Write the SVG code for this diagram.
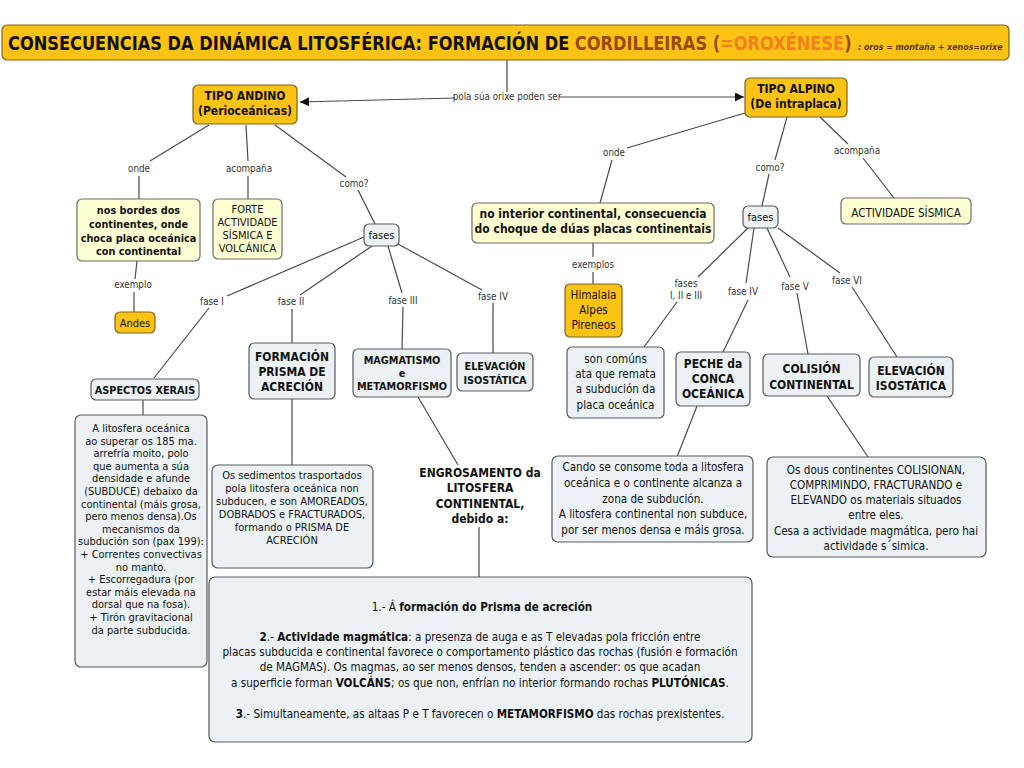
<svg xmlns="http://www.w3.org/2000/svg" width="1024" height="768" viewBox="0 0 1024 768">
<defs>
<style>
text{font-family:"DejaVu Sans Condensed","DejaVu Sans",sans-serif;font-stretch:condensed;fill:#111;text-anchor:middle}
.b{font-weight:bold}
.org{fill:#FDC314;stroke:#7d6320;stroke-width:1.2}
.yel{fill:#FFFFD2;stroke:#6b6b6b;stroke-width:1.2}
.blu{fill:#EBF1F4;stroke:#5a5a5a;stroke-width:1.2}
.ln{stroke:#4a4a4a;stroke-width:1.2;fill:none}
.lbl{font-size:9.8px;fill:#333}
.r12{font-size:11.6px}
.r11{font-size:11px}
.b12{font-size:12px;font-weight:bold}
.b11{font-size:10.8px;font-weight:bold}
</style>
<marker id="ah" viewBox="0 0 10 10" refX="10" refY="5" markerWidth="9" markerHeight="9" markerUnits="userSpaceOnUse" orient="auto"><path d="M0,0 L10,5 L0,10 z" fill="#111"/></marker>
</defs>
<rect width="1024" height="768" fill="#fff"/>

<g id="connectors">
<line class="ln" x1="507" y1="60" x2="507" y2="92"/>
<polyline class="ln" points="455,98 300,102" marker-end="url(#ah)"/>
<polyline class="ln" points="559,97 744,97" marker-end="url(#ah)"/>
<text class="lbl" x="507" y="100">pola súa orixe poden ser</text>

<line class="ln" x1="209" y1="125" x2="150" y2="161"/>
<text class="lbl" x="139" y="172">onde</text>
<line class="ln" x1="139" y1="176" x2="139" y2="199"/>
<line class="ln" x1="246" y1="125" x2="248" y2="161"/>
<text class="lbl" x="249" y="172">acompaña</text>
<line class="ln" x1="248" y1="176" x2="248" y2="199"/>
<line class="ln" x1="275" y1="125" x2="346" y2="177"/>
<text class="lbl" x="354" y="187">como?</text>
<line class="ln" x1="358" y1="190" x2="375" y2="224"/>

<line class="ln" x1="137" y1="261" x2="135" y2="279"/>
<text class="lbl" x="133" y="288">exemplo</text>
<line class="ln" x1="134" y1="292" x2="134" y2="312"/>

<line class="ln" x1="364" y1="237" x2="227" y2="296"/>
<text class="lbl" x="212" y="305">fase I</text>
<line class="ln" x1="209" y1="308" x2="154" y2="378"/>
<line class="ln" x1="372" y1="246" x2="300" y2="295"/>
<text class="lbl" x="291" y="305">fase II</text>
<line class="ln" x1="292" y1="309" x2="292" y2="343"/>
<line class="ln" x1="388" y1="246" x2="402" y2="293"/>
<text class="lbl" x="403" y="304">fase III</text>
<line class="ln" x1="403" y1="307" x2="402" y2="349"/>
<line class="ln" x1="398" y1="244" x2="482" y2="290"/>
<text class="lbl" x="493" y="300">fase IV</text>
<line class="ln" x1="493" y1="303" x2="493" y2="353"/>

<line class="ln" x1="143" y1="400" x2="143" y2="415"/>
<line class="ln" x1="292" y1="399" x2="292" y2="465"/>
<line class="ln" x1="418" y1="397" x2="458" y2="465"/>
<line class="ln" x1="479" y1="527" x2="479" y2="577"/>

<line class="ln" x1="745" y1="113" x2="627" y2="148"/>
<text class="lbl" x="614" y="156">onde</text>
<line class="ln" x1="612" y1="160" x2="600" y2="203"/>
<line class="ln" x1="787" y1="117" x2="775" y2="160"/>
<text class="lbl" x="770" y="171">como?</text>
<line class="ln" x1="769" y1="174" x2="762" y2="206"/>
<line class="ln" x1="820" y1="117" x2="848" y2="144"/>
<text class="lbl" x="857" y="154">acompaña</text>
<line class="ln" x1="863" y1="158" x2="894" y2="198"/>

<line class="ln" x1="593" y1="243" x2="593" y2="257"/>
<text class="lbl" x="593" y="268">exemplos</text>
<line class="ln" x1="593" y1="272" x2="593" y2="284"/>

<line class="ln" x1="748" y1="228" x2="698" y2="277"/>
<text class="lbl" x="686" y="287">fases</text>
<text class="lbl" x="686" y="299">I, II e III</text>
<line class="ln" x1="677" y1="302" x2="644" y2="347"/>
<line class="ln" x1="754" y1="228" x2="746" y2="283"/>
<text class="lbl" x="743" y="295">fase IV</text>
<line class="ln" x1="748" y1="300" x2="723" y2="352"/>
<line class="ln" x1="767" y1="228" x2="790" y2="277"/>
<text class="lbl" x="795" y="290">fase V</text>
<line class="ln" x1="797" y1="293" x2="808" y2="354"/>
<line class="ln" x1="778" y1="228" x2="840" y2="273"/>
<text class="lbl" x="847" y="284">fase VI</text>
<line class="ln" x1="852" y1="287" x2="897" y2="357"/>

<line class="ln" x1="697" y1="406" x2="677" y2="457"/>
<line class="ln" x1="827" y1="396" x2="868" y2="457"/>
</g>

<g id="title">
<rect class="org" x="2" y="25" width="1007" height="35" rx="5"/>
<text class="b" font-size="19" style="text-anchor:start" transform="translate(8,50) scale(0.912,1)" textLength="925" lengthAdjust="spacingAndGlyphs">CONSECUENCIAS DA DINÁMICA LITOSFÉRICA: FORMACIÓN DE <tspan style="fill:#9A4A12">CORDILLEIRAS (</tspan><tspan style="fill:#F2801E">=OROXÉNESE</tspan><tspan style="fill:#9A4A12">)</tspan></text>
<text class="b" x="858" y="50" font-size="8.8" font-style="italic" style="text-anchor:start;fill:#5a3a10">: oros = montaña + xenos=orixe</text>
</g>

<g id="tipo-andino">
<rect class="org" x="193" y="85" width="104" height="39" rx="5"/>
<text class="b12" x="245" y="100">TIPO ANDINO</text>
<text class="b12" x="245" y="115">(Perioceánicas)</text>
</g>

<g id="tipo-alpino">
<rect class="org" x="745" y="78" width="102" height="39" rx="5"/>
<text class="b12" x="796" y="93">TIPO ALPINO</text>
<text class="b12" x="796" y="108">(De intraplaca)</text>
</g>

<g id="bordes">
<rect class="yel" x="77" y="199" width="123" height="62" rx="5"/>
<text class="b11" x="138.5" y="214">nos bordes dos</text>
<text class="b11" x="138.5" y="228">continentes, onde</text>
<text class="b11" x="138.5" y="242">choca  placa oceánica</text>
<text class="b11" x="138.5" y="255">con continental</text>
</g>

<g id="forte">
<rect class="yel" x="213" y="199" width="69" height="60" rx="5"/>
<text class="r11" x="247.5" y="213">FORTE</text>
<text class="r11" x="247.5" y="226">ACTIVIDADE</text>
<text class="r11" x="247.5" y="239">SÍSMICA E</text>
<text class="r11" x="247.5" y="252">VOLCÁNICA</text>
</g>

<g id="fases-andino">
<rect class="blu" x="364" y="224" width="35" height="22" rx="5"/>
<text class="r11" x="381.5" y="239">fases</text>
</g>

<g id="andes">
<rect class="org" x="115" y="312" width="40" height="21" rx="5"/>
<text class="r11" x="135" y="327">Andes</text>
</g>

<g id="aspectos">
<rect class="blu" x="91" y="379" width="108" height="21" rx="5"/>
<text class="b11" x="145" y="394">ASPECTOS XERAIS</text>
</g>

<g id="prisma">
<rect class="blu" x="249" y="343" width="86" height="56" rx="5"/>
<text class="b12" x="292" y="361">FORMACIÓN</text>
<text class="b12" x="292" y="376">PRISMA  DE</text>
<text class="b12" x="292" y="391">ACRECIÓN</text>
</g>

<g id="magmatismo">
<rect class="blu" x="353" y="349" width="98" height="48" rx="5"/>
<text class="b11" x="402" y="364" font-size="10.4">MAGMATISMO</text>
<text class="b11" x="402" y="377" font-size="10.4">e</text>
<text class="b11" x="402" y="390" font-size="10.4">METAMORFISMO</text>
</g>

<g id="elevacion-andino">
<rect class="blu" x="457" y="353" width="76" height="38" rx="5"/>
<text class="b11" x="495" y="370" font-size="10.4">ELEVACIÓN</text>
<text class="b11" x="495" y="384" font-size="10.4">ISOSTÁTICA</text>
</g>

<g id="aspectos-texto">
<rect class="blu" x="75" y="415" width="132" height="252" rx="6"/>
<g class="r11" font-size="11.4">
<text x="141" y="432">A litosfera oceánica</text>
<text x="141" y="444.6">ao superar os 185 ma.</text>
<text x="141" y="457.2">arrefría moito, polo</text>
<text x="141" y="469.8">que aumenta a súa</text>
<text x="141" y="482.4">densidade  e afunde</text>
<text x="141" y="495">(SUBDUCE) debaixo da</text>
<text x="141" y="507.6">continental (máis grosa,</text>
<text x="141" y="520.2">pero menos  densa).Os</text>
<text x="141" y="532.8">mecanismos da</text>
<text x="141" y="545.4">subdución son (pax 199):</text>
<text x="141" y="558">+ Correntes convectivas</text>
<text x="141" y="570.6">no manto.</text>
<text x="141" y="583.2">+ Escorregadura (por</text>
<text x="141" y="595.8">estar máis elevada na</text>
<text x="141" y="608.4">dorsal que na fosa).</text>
<text x="141" y="621">+ Tirón gravitacional</text>
<text x="141" y="633.6">da parte subducida.</text>
</g>
</g>

<g id="sedimentos">
<rect class="blu" x="212" y="465" width="161" height="103" rx="6"/>
<g class="r11" font-size="10.4">
<text x="292" y="479">Os sedimentos trasportados</text>
<text x="292" y="492">pola litosfera oceánica non</text>
<text x="292" y="505">subducen,  e son AMOREADOS,</text>
<text x="292" y="518">DOBRADOS  e FRACTURADOS,</text>
<text x="292" y="531">formando o PRISMA DE</text>
<text x="292" y="544">ACRECIÓN</text>
</g>
</g>

<g id="engrosamento">
<text class="b12" x="480" y="477">ENGROSAMENTO da</text>
<text class="b12" x="480" y="492">LITOSFERA</text>
<text class="b12" x="480" y="508">CONTINENTAL,</text>
<text class="b12" x="480" y="523">debido a:</text>
</g>

<g id="causas">
<rect class="blu" x="209" y="577" width="543" height="165" rx="6"/>
<g class="r12" font-size="11.9">
<text x="482" y="611">1.- Á <tspan class="b">formación do Prisma de acreción</tspan></text>
<text x="480" y="641"><tspan class="b">2</tspan>.- <tspan class="b">Actividade magmática</tspan>: a presenza de auga e as T elevadas pola fricción entre</text>
<text x="480" y="656">placas subducida e continental favorece o comportamento plástico  das rochas (fusión e formación</text>
<text x="480" y="671">de MAGMAS).   Os magmas, ao ser menos densos,  tenden a ascender: os que acadan</text>
<text x="480" y="687"> a superficie forman <tspan class="b">VOLCÁNS</tspan>;  os que non, enfrían no interior formando rochas <tspan class="b">PLUTÓNICAS</tspan>.</text>
<text x="480" y="718"><tspan class="b">3</tspan>.- Simultaneamente, as altaas P e T  favorecen o <tspan class="b">METAMORFISMO</tspan> das  rochas prexistentes.</text>
</g>
</g>

<g id="interior">
<rect class="yel" x="472" y="203" width="242" height="40" rx="5"/>
<text class="b12" x="593" y="218">no interior continental, consecuencia</text>
<text class="b12" x="593" y="233">do choque de dúas placas continentais</text>
</g>

<g id="himalaia">
<rect class="org" x="565" y="284" width="57" height="53" rx="5"/>
<text class="r12" x="593.5" y="299">Himalaia</text>
<text class="r12" x="593.5" y="314">Alpes</text>
<text class="r12" x="593.5" y="329">Pireneos</text>
</g>

<g id="fases-alpino">
<rect class="blu" x="743" y="206" width="35" height="22" rx="5"/>
<text class="r11" x="760.5" y="221">fases</text>
</g>

<g id="actividade-sismica">
<rect class="yel" x="841" y="198" width="130" height="26" rx="5"/>
<text class="r12" x="906" y="217">ACTIVIDADE SÍSMICA</text>
</g>

<g id="son-comuns">
<rect class="blu" x="567" y="347" width="97" height="71" rx="5"/>
<text class="r12" x="615.5" y="363">son comúns</text>
<text class="r12" x="615.5" y="378">ata que remata</text>
<text class="r12" x="615.5" y="393">a subdución da</text>
<text class="r12" x="615.5" y="409">placa oceánica</text>
</g>

<g id="peche">
<rect class="blu" x="676" y="352" width="74" height="54" rx="5"/>
<text class="b12" x="713" y="368">PECHE da</text>
<text class="b12" x="713" y="383">CONCA</text>
<text class="b12" x="713" y="398">OCEÁNICA</text>
</g>

<g id="colision">
<rect class="blu" x="763" y="354" width="97" height="42" rx="5"/>
<text class="b12" x="811.5" y="373">COLISIÓN</text>
<text class="b12" x="811.5" y="389">CONTINENTAL</text>
</g>

<g id="elevacion-alpino">
<rect class="blu" x="869" y="357" width="84" height="40" rx="5"/>
<text class="b12" x="911" y="375">ELEVACIÓN</text>
<text class="b12" x="911" y="390">ISOSTÁTICA</text>
</g>

<g id="cando">
<rect class="blu" x="552" y="456" width="201" height="86" rx="6"/>
<g class="r12" font-size="11.5">
<text x="653" y="471">Cando se consome toda a litosfera</text>
<text x="653" y="487">oceánica e o continente  alcanza a</text>
<text x="653" y="503">zona de subdución.</text>
<text x="653" y="518">A litosfera continental non subduce,</text>
<text x="653" y="534">por ser menos densa e máis grosa.</text>
</g>
</g>

<g id="os-dous">
<rect class="blu" x="767" y="457" width="219" height="100" rx="6"/>
<g class="r12" font-size="11.5">
<text x="876" y="474">Os dous continentes COLISIONAN,</text>
<text x="876" y="489">COMPRIMINDO, FRACTURANDO e</text>
<text x="876" y="504">ELEVANDO os materiais situados</text>
<text x="876" y="519">entre eles.</text>
<text x="876" y="535">Cesa a actividade magmática, pero hai</text>
<text x="876" y="550">actividade s´simica.</text>
</g>
</g>
</svg>
